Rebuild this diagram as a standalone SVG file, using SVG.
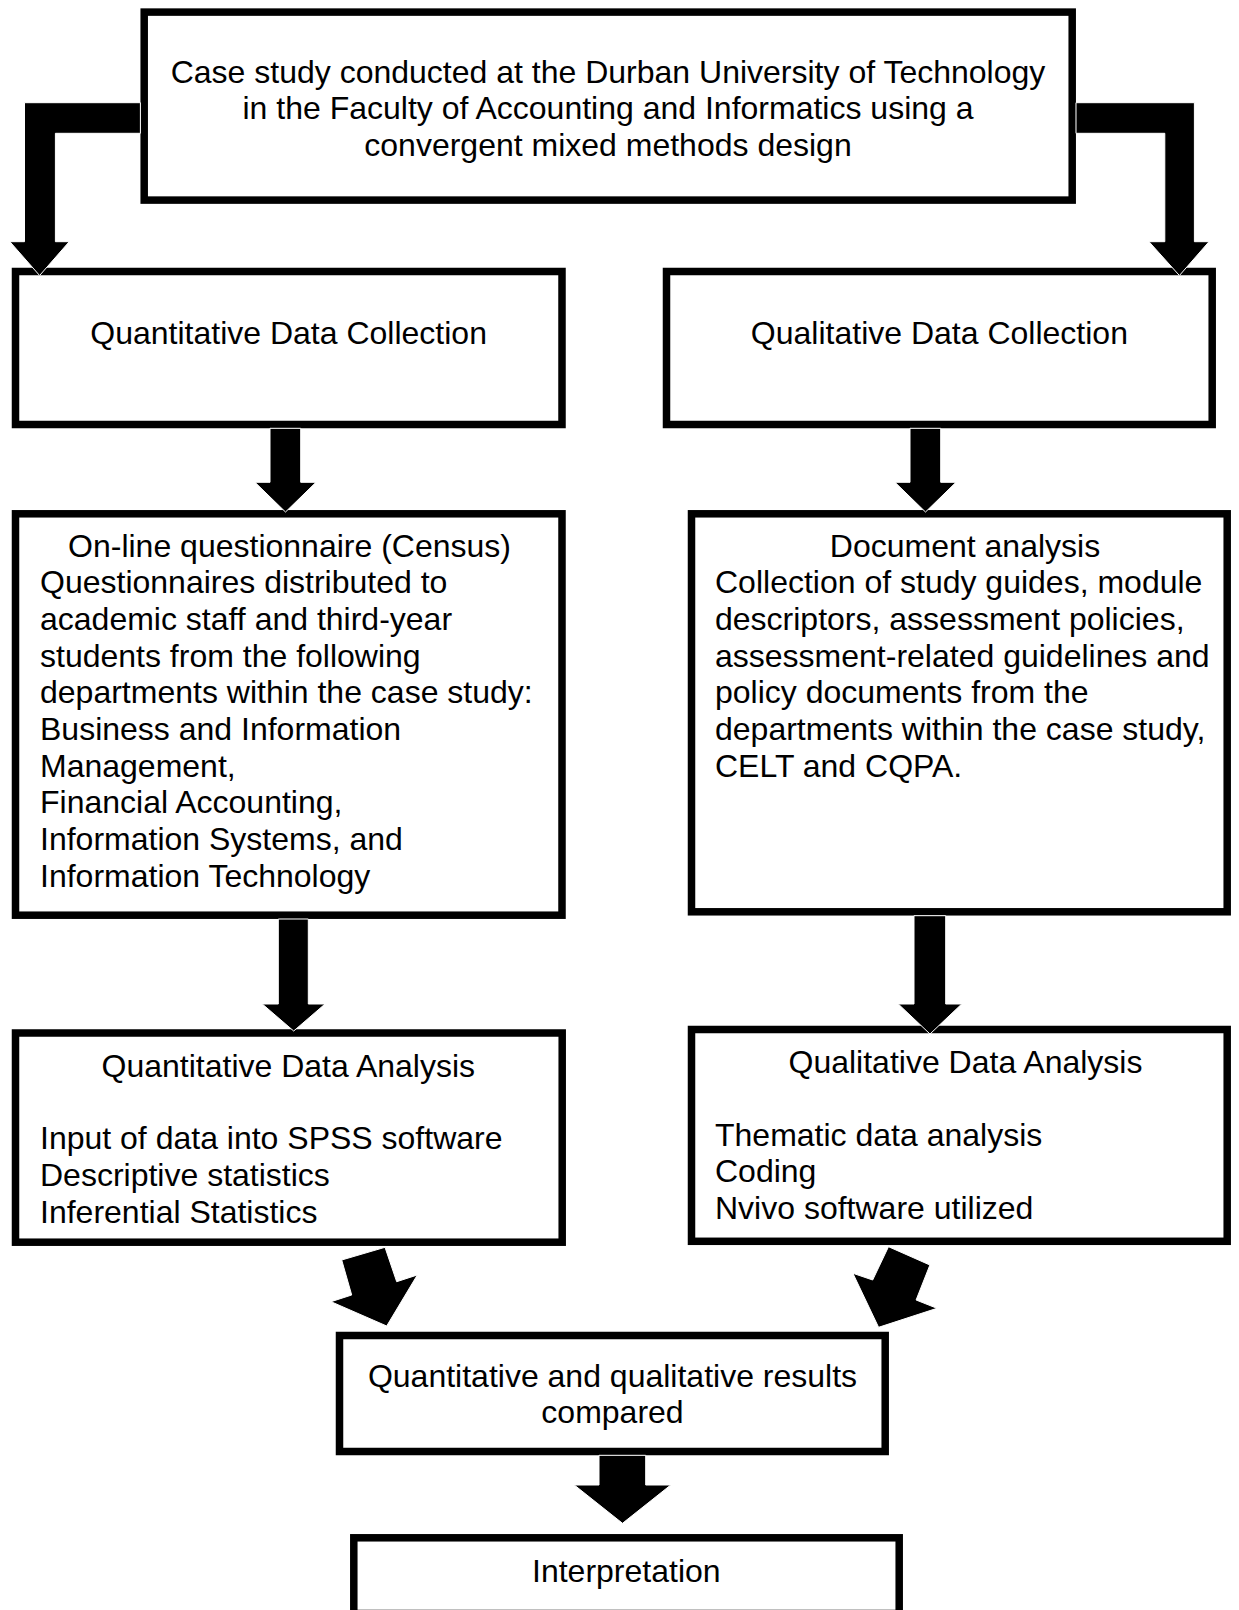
<svg xmlns="http://www.w3.org/2000/svg" width="1239" height="1610" viewBox="0 0 1239 1610">
<style>
.bg{fill:#fff}
.box{fill:#fff;stroke:#000;stroke-width:7.5}
.arrow{fill:#000;stroke:#fff;stroke-width:1;stroke-linejoin:miter}
text{font-family:"Liberation Sans",Arial,sans-serif;font-size:32px;fill:#000}
.c{text-anchor:middle}
</style>
<rect class="bg" x="0" y="0" width="1239" height="1610"/>
<g id="nodes">
<g id="case-study">
<rect class="box" x="144.2" y="12.1" width="928" height="188"/>
<text class="c"><tspan x="608" y="82.5">Case study conducted at the Durban University of Technology</tspan><tspan x="608" y="119">in the Faculty of Accounting and Informatics using a</tspan><tspan x="608" y="155.5">convergent mixed methods design</tspan></text>
</g>
<g id="quant-collection">
<rect class="box" x="15.5" y="271.5" width="546.5" height="153"/>
<text class="c" x="288.6" y="344">Quantitative Data Collection</text>
</g>
<g id="qual-collection">
<rect class="box" x="666.5" y="271.5" width="545.7" height="153"/>
<text class="c" x="939.4" y="344">Qualitative Data Collection</text>
</g>
<g id="questionnaire">
<rect class="box" x="15.5" y="513.8" width="546.5" height="401.4"/>
<text class="c" x="289.5" y="556.7">On-line questionnaire (Census)</text>
<text><tspan x="40" y="593.3">Questionnaires distributed to</tspan><tspan x="40" y="630">academic staff and third-year</tspan><tspan x="40" y="666.7">students from the following</tspan><tspan x="40" y="703.3">departments within the case study:</tspan><tspan x="40" y="740">Business and Information</tspan><tspan x="40" y="776.7">Management,</tspan><tspan x="40" y="813.3">Financial Accounting,</tspan><tspan x="40" y="850">Information Systems, and</tspan><tspan x="40" y="886.7">Information Technology</tspan></text>
</g>
<g id="document-analysis">
<rect class="box" x="691.5" y="513.8" width="535.7" height="398"/>
<text class="c" x="965" y="556.7">Document analysis</text>
<text><tspan x="715" y="593.3">Collection of study guides, module</tspan><tspan x="715" y="630">descriptors, assessment policies,</tspan><tspan x="715" y="666.7">assessment-related guidelines and</tspan><tspan x="715" y="703.3">policy documents from the</tspan><tspan x="715" y="740">departments within the case study,</tspan><tspan x="715" y="776.7">CELT and CQPA.</tspan></text>
</g>
<g id="quant-analysis">
<rect class="box" x="15.5" y="1033" width="546.7" height="209.2"/>
<text class="c" x="288.3" y="1076.7">Quantitative Data Analysis</text>
<text><tspan x="40" y="1149.3">Input of data into SPSS software</tspan><tspan x="40" y="1186">Descriptive statistics</tspan><tspan x="40" y="1222.7">Inferential Statistics</tspan></text>
</g>
<g id="qual-analysis">
<rect class="box" x="691.5" y="1029.5" width="535.7" height="211.8"/>
<text class="c" x="965.5" y="1072.7">Qualitative Data Analysis</text>
<text><tspan x="715" y="1145.7">Thematic data analysis</tspan><tspan x="715" y="1182.4">Coding</tspan><tspan x="715" y="1219.1">Nvivo software utilized</tspan></text>
</g>
<g id="compared">
<rect class="box" x="339.5" y="1335.5" width="545.7" height="116"/>
<text class="c"><tspan x="612.5" y="1386.7">Quantitative and qualitative results</tspan><tspan x="612.5" y="1423.3">compared</tspan></text>
</g>
<g id="interpretation">
<rect class="box" x="353.8" y="1537.8" width="545.4" height="75.7"/>
<text class="c" x="626.3" y="1581.7">Interpretation</text>
</g>
</g>
<g id="connectors">
<polygon class="arrow" points="140.4,102.7 24.5,102.7 24.5,241.7 9.9,241.7 39.6,275.5 69.2,241.7 55.4,241.7 55.4,133.3 140.4,133.3"/>
<polygon class="arrow" points="1076,102.7 1194.4,102.7 1194.4,241.7 1209,241.7 1179.4,275.5 1149,241.7 1164.8,241.7 1164.8,133.3 1076,133.3"/>
<polygon class="arrow" points="270,428.3 300.7,428.3 300.7,482.3 316,482.3 285.5,512 255,482.3 270,482.3"/>
<polygon class="arrow" points="910,428.3 940.7,428.3 940.7,482.3 956,482.3 925.5,512 895,482.3 910,482.3"/>
<polygon class="arrow" points="278.3,919 308.3,919 308.3,1004 325,1004 293.7,1031 262.3,1004 278.3,1004"/>
<polygon class="arrow" points="914,915.7 945.7,915.7 945.7,1004 961.7,1004 930,1034 898.3,1004 914,1004"/>
<polygon class="arrow" points="341.7,1260 385,1247.3 396.7,1281.7 417.3,1275 386.7,1326 331,1301.7 351.7,1295"/>
<polygon class="arrow" points="888.5,1246.7 929.9,1265 916.1,1300 937,1308.3 878.6,1327.3 852.9,1273.3 872.7,1280"/>
<polygon class="arrow" points="599,1455.3 645.7,1455.3 645.7,1485 670.7,1485 622.5,1523.3 574.3,1485 599,1485"/>
</g>
</svg>
